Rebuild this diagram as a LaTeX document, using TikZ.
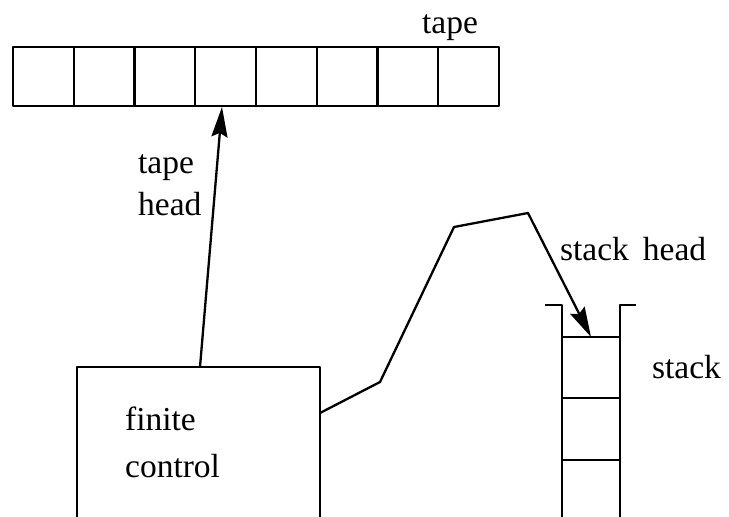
\documentclass[tikz,border=0pt]{standalone}
\usepackage{fontspec}
\setmainfont{Liberation Serif}
\usetikzlibrary{arrows.meta}
\begin{document}
\begin{tikzpicture}[x=1pt,y=-1pt,
  line width=2.3pt,
  cell/.style={draw, minimum width=60.75pt, minimum height=59pt, inner sep=0pt, outer sep=0pt},
  lbl/.style={font=\fontsize{33.5}{38}\selectfont, inner sep=0pt, anchor=base west},
  head/.style={-{Stealth[length=30pt,width=16pt,inset=4pt]}},
  line join=round]
\useasboundingbox (0,0) rectangle (729,517);
\clip (0,0) rectangle (729,517);

% tape cells
\foreach \i in {1,...,8}
  \node[cell] (t\i) at ({13+60.75*(\i-0.5)},76.5) {};
\node[lbl] (tapelbl) at (421,33) {tape};

% finite control (runs off the lower edge)
\node[draw, minimum width=243pt, minimum height=200pt, inner sep=0pt, outer sep=0pt,
      anchor=north west] (fc) at (77,367) {};
\node[lbl] (fin) at (124,430) {finite};
\node[lbl] (ctl) at (124,477) {control};

% tape head
\coordinate (thtail) at (200,367);
\coordinate (thtip) at (222,107);
\draw[head] (thtail) -- (thtip);
\node[lbl] (thl1) at (137,173) {tape};
\node[lbl] (thl2) at (137,215) {head};

% stack: open-topped container with cells
\coordinate (lipL) at (545,305);
\coordinate (lipR) at (636,305);
\draw (lipL) -- (562,305) -- (562,530);
\draw (lipR) -- (620,305) -- (620,530);
\node[cell, minimum width=58pt, minimum height=61pt, anchor=north west] (s1) at (562,337) {};
\node[cell, minimum width=58pt, minimum height=62pt, anchor=north west] (s2) at (562,398) {};
\node[cell, minimum width=58pt, minimum height=62pt, anchor=north west] (s3) at (562,460) {};
\node[lbl] (stk) at (651,378) {stack};
\node[lbl] (shl) at (559,260) {stack\, head};

% stack head linkage
\coordinate (shtip) at (591,337);
\draw[head] (fc.east |- 0,413) -- (380,382) -- (454,227) -- (528,213) -- (shtip);
\end{tikzpicture}
\end{document}
